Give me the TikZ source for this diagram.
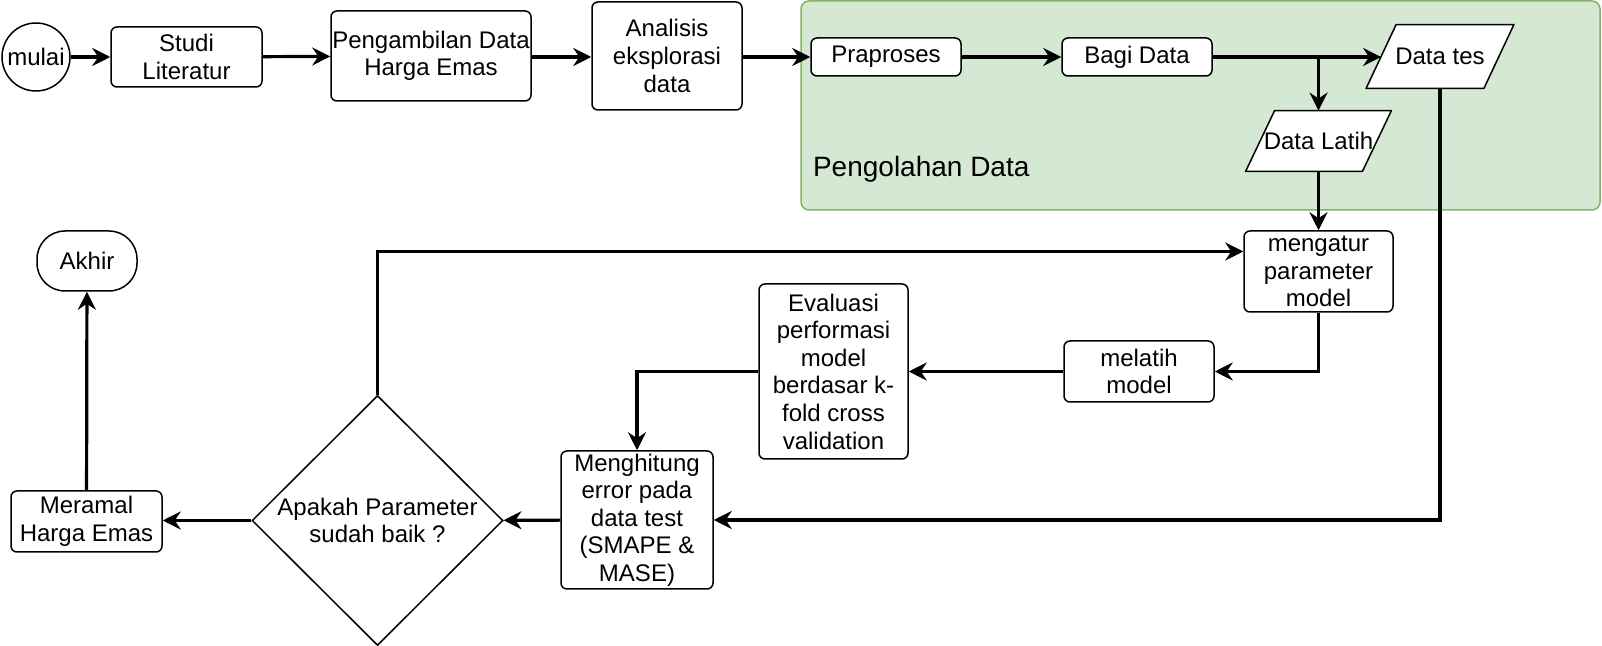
\documentclass[tikz,border=0pt]{standalone}
\usepackage{fontspec}
\setmainfont{Liberation Sans}
\usetikzlibrary{shapes.geometric, arrows.meta, backgrounds}
\definecolor{hijaumuda}{HTML}{D5E8D4}
\definecolor{hijautua}{HTML}{82B366}

\begin{document}
\begin{tikzpicture}[x=0.5pt, y=-0.5pt, font=\fontsize{12}{13.8}\selectfont,
    proses/.style={draw, fill=white, line width=0.75pt, rounded corners=3pt, align=center, inner sep=0pt},
    io/.style={align=center, inner sep=0pt},
    jajar/.style={draw, fill=white, line width=0.75pt, line join=round},
    panah/.style={line width=1.6pt, -{Stealth[length=9pt, width=9pt, inset=3pt]}}]
    \useasboundingbox (0,0) rectangle (1602,646);

    \node [anchor=west, font=\fontsize{14}{16}\selectfont] (judul) at (806,169) {Pengolahan Data};

    \node [draw, circle, line width=0.75pt, minimum size=34pt, inner sep=0pt] (mulai) at (36,57) {mulai};
    \node [proses, minimum width=75.5pt, minimum height=30pt] (studi) at (186.5,57) {Studi\\Literatur};
    \node [proses, minimum width=100pt, minimum height=45pt] (ambil) at (431,56) {Pengambilan Data\\Harga Emas};
    \node [proses, minimum width=75pt, minimum height=54pt] (analisis) at (667,56) {Analisis\\eksplorasi\\data};
    \node [proses, minimum width=75pt, minimum height=19pt] (praproses) at (886,57) {Praproses};
    \node [proses, minimum width=75pt, minimum height=19pt] (bagi) at (1137,57) {Bagi Data};
    \node [io, minimum width=58.5pt, minimum height=31.5pt] (tes) at (1440,56.5) {Data tes};
    \node [io, minimum width=58pt, minimum height=30pt] (latih) at (1318.5,141) {Data Latih};

    \begin{scope}[on background layer]
        \node [draw=hijautua, fill=hijaumuda, line width=0.75pt, rounded corners=4pt, minimum width=399.5pt, minimum height=104.5pt] (area) at (1200.5,105.5) {};
        \draw [jajar] ([xshift=7.5pt]tes.north west) -- ([xshift=7.5pt]tes.north east) -- ([xshift=-7.5pt]tes.south east) -- ([xshift=-7.5pt]tes.south west) -- cycle;
        \draw [jajar] ([xshift=7.25pt]latih.north west) -- ([xshift=7.25pt]latih.north east) -- ([xshift=-7.25pt]latih.south east) -- ([xshift=-7.25pt]latih.south west) -- cycle;
    \end{scope}

    \node [proses, minimum width=74.5pt, minimum height=40.5pt] (atur) at (1318.5,271.5) {mengatur\\parameter\\model};
    \node [proses, minimum width=75pt, minimum height=30.5pt] (melatih) at (1139,371.5) {melatih\\model};
    \node [proses, minimum width=74.5pt, minimum height=87.5pt] (evaluasi) at (833.5,371.5) {Evaluasi\\performasi\\model\\berdasar k-\\fold cross\\validation};
    \node [proses, minimum width=76pt, minimum height=69pt] (hitung) at (637,520) {Menghitung\\error pada\\data test\\(SMAPE \&\\MASE)};
    \node [draw, diamond, line width=0.75pt, minimum width=125.5pt, minimum height=125pt, inner sep=0pt, align=center] (cek) at (377.5,520.5) {Apakah Parameter\\sudah baik ?};
    \node [proses, minimum width=75.5pt, minimum height=30.5pt] (ramal) at (86.5,521.5) {Meramal\\Harga Emas};
    \node [proses, rounded corners=14pt, minimum width=50pt, minimum height=30pt] (akhir) at (87,261) {Akhir};

    \draw [panah] (mulai) -- (studi);
    \draw [panah] (studi) -- (ambil);
    \draw [panah] (ambil.east |- studi) -- (analisis.west |- studi);
    \draw [panah] (analisis.east |- studi) -- (praproses);
    \draw [panah] (praproses) -- (bagi);
    \draw [panah] (bagi) -- (tes.west |- bagi);
    \draw [panah] (bagi.east) -| (latih.north);
    \draw [panah] (latih.south) -- (atur.north);
    \draw [panah] (tes.south) |- (hitung.east);
    \draw [panah] (atur.south) |- (melatih.east);
    \draw [panah] (melatih) -- (evaluasi);
    \draw [panah] (evaluasi.west) -| (hitung.north);
    \draw [panah] (hitung) -- (cek);
    \draw [panah] (cek.north) |- ([yshift=10pt]atur.west);
    \draw [panah] (cek.west) -- (ramal.east |- cek.west);
    \draw [panah] (ramal) -- (akhir);
\end{tikzpicture}
\end{document}
